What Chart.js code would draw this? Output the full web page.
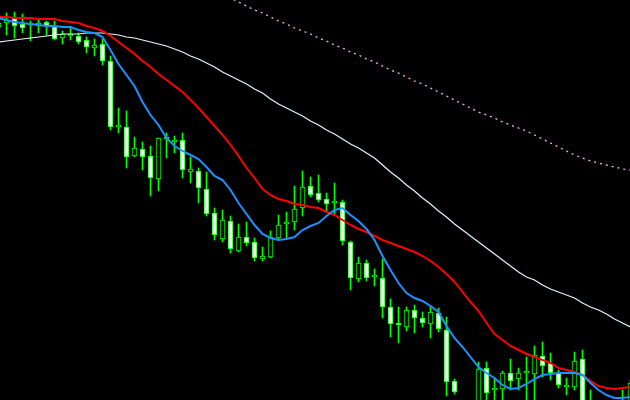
<!DOCTYPE html>
<html>
<head>
<meta charset="utf-8">
<title>Candles with moving averages</title>
<script src="https://cdn.jsdelivr.net/npm/chart.js@4.4.1/dist/chart.umd.min.js"></script>
<style>
  html, body { margin: 0; padding: 0; background: #000; }
  #wrap { width: 630px; height: 400px; position: relative; }
</style>
</head>
<body>
<div id="wrap"><canvas id="chart"></canvas></div>
<script>
// Price levels (no price axis shown, 1 unit = 1 px)
const openPrices = [373,377,383,376,375,374,378,373,362,364, 364,360,352,356,339,273,273,244,251,244,
  221,261,258,260,228,229,211,187,161,179, 149,163,158,141,143,162,176,178,192,214,
  207,201,197,198,158,121,137,123,122,93, 77,73,90,82,76,87,70,19,-5,-18,
  -5,32,10,11,27,21,27,26,44,37, 27,13,13,41,-2,-5,-10,-4,-10,-5];
const highPrices = [380,387,388,386,379,380,379,379,369,373, 367,363,361,361,344,292,289,263,258,254,
  262,267,264,267,243,232,228,192,190,184, 176,178,162,153,169,185,188,214,229,223,
  225,207,217,200,159,143,140,131,141,101, 93,93,95,88,94,92,83,21,-2,-2,
  38,38,22,29,41,32,43,54,58,47, 30,22,48,50,10,-3,-1,-2,10,20];
const lowPrices = [370,365,362,367,359,367,365,360,356,360, 356,347,344,335,270,267,232,243,230,204,
  209,242,247,222,217,197,184,160,158,147, 148,154,139,139,142,160,162,170,184,203,
  198,188,185,155,110,118,119,114,82,63, 57,69,67,73,62,68,4,6,-25,-25,
  -10,0,-2,0,10,10,0,0,23,20, 12,5,10,-7,-15,-18,-15,-18,-15,-10];
const closePrices = [377,380,374,372,375,377,374,361,366,366, 358,353,355,339,273,275,243,252,243,222,
  262,261,258,230,231,212,186,165,180,151, 163,157,142,144,163,175,176,191,213,205,
  200,196,199,159,122,137,122,123,93,76, 75,90,82,77,88,71,18,8,-20,-5,
  31,7,10,27,19,27,27,45,34,27, 15,13,39,-5,-12,-15,-3,-12,-2,17];

// moving averages, one value per candle
const fastMa = [382,380,378,377,376,375,374,374,373,373, 370,368,367,363,350,336,325,314,298,285,
  275,262,254,249,245,241,233,224,220,210, 197,186,175,166,162,160,161,163,170,174,
  177,184,190,192,185,179,171,160,144,130, 117,107,102,99,94,88,74,62,53,43,
  33,27,22,15,11,12,16,21,25,26, 27,27,27,25,17,10,5,2,2,3];
const midMa = [383,383,382,382,382,381,381,381,379,378, 377,374,372,369,364,358,352,346,339,333,
  326,320,314,308,300,292,283,274,265,255, 244,232,222,211,205,201,199,196,195,193,
  192,188,185,180,175,171,168,164,160,157, 154,151,148,144,139,133,126,118,108,98,
  89,77,66,60,54,50,46,43,40,37, 32,30,28,25,19,14,12,11,12,13];
const slowMa = [358,359,360,361,362,363,364,365,366,366, 366,367,367,367,366,365,363,362,360,358,
  356,354,351,348,344,341,337,333,328,324, 320,316,311,307,301,296,292,288,284,279,
  275,270,266,261,256,252,247,242,235,228, 222,215,209,202,196,189,183,176,170,164,
  158,152,146,140,134,128,123,120,115,111, 108,105,102,97,93,90,86,81,77,73];
// the slowest average only enters the window from candle 28 on
const slowestStart = 28;
const slowestMa = [405,402,398,394,390,387,383,379,376,372, 369,366,362,359,355,352,348,345,341,338,
  334,330,327,323,319,316,312,308,304,300, 296,292,288,285,282,278,275,272,269,265,
  261,257,253,249,245,242,239,237,235,233, 231,230];

const colors = {
  candle: '#00FF00',
  bear: '#FFFFFF',
  bull: '#000000',
  fast: '#1E90FF',
  mid: '#FF0000',
  slow: '#E4F6FC',
  slowest: '#F0B4F0'
};

const idx = openPrices.map((_, i) => i);
const bodies = idx.map(i => ({ x: i, y: [openPrices[i], closePrices[i]] }));
const wicks = idx.map(i => ({ x: i, y: [lowPrices[i], highPrices[i]] }));
const bodyFill = idx.map(i => closePrices[i] < openPrices[i] ? colors.bear : colors.bull);
const toLine = (arr, start = 0) => arr.map((v, k) => ({ x: start + k, y: v }));

function maLine(label, data, color, width, dash) {
  return {
    type: 'line',
    label: label,
    data: data,
    borderColor: color,
    borderWidth: width,
    borderDash: dash || [],
    pointRadius: 0,
    tension: 0,
    fill: false,
    order: 0
  };
}

new Chart(document.getElementById('chart'), {
  type: 'bar',
  data: {
    datasets: [
      maLine('MA fast', toLine(fastMa), colors.fast, 2),
      maLine('MA mid', toLine(midMa), colors.mid, 2),
      maLine('MA slow', toLine(slowMa), colors.slow, 1.2),
      maLine('MA slowest', toLine(slowestMa, slowestStart), colors.slowest, 1.3, [2, 4]),
      {
        label: 'Body',
        data: bodies,
        backgroundColor: bodyFill,
        borderColor: colors.candle,
        borderWidth: 1,
        borderSkipped: false,
        barThickness: 5,
        minBarLength: 2,
        grouped: false,
        order: 1
      },
      {
        label: 'Wick',
        data: wicks,
        backgroundColor: colors.candle,
        borderWidth: 0,
        barThickness: 1,
        grouped: false,
        order: 2
      }
    ]
  },
  options: {
    responsive: true,
    maintainAspectRatio: false,
    animation: false,
    devicePixelRatio: 1,
    layout: { padding: 0 },
    plugins: {
      legend: { display: false },
      tooltip: { enabled: false }
    },
    scales: {
      x: { type: 'linear', min: 0.1875, max: 78.9375, offset: false, display: false },
      y: { min: 0, max: 400, display: false }
    }
  }
});
</script>
</body>
</html>
